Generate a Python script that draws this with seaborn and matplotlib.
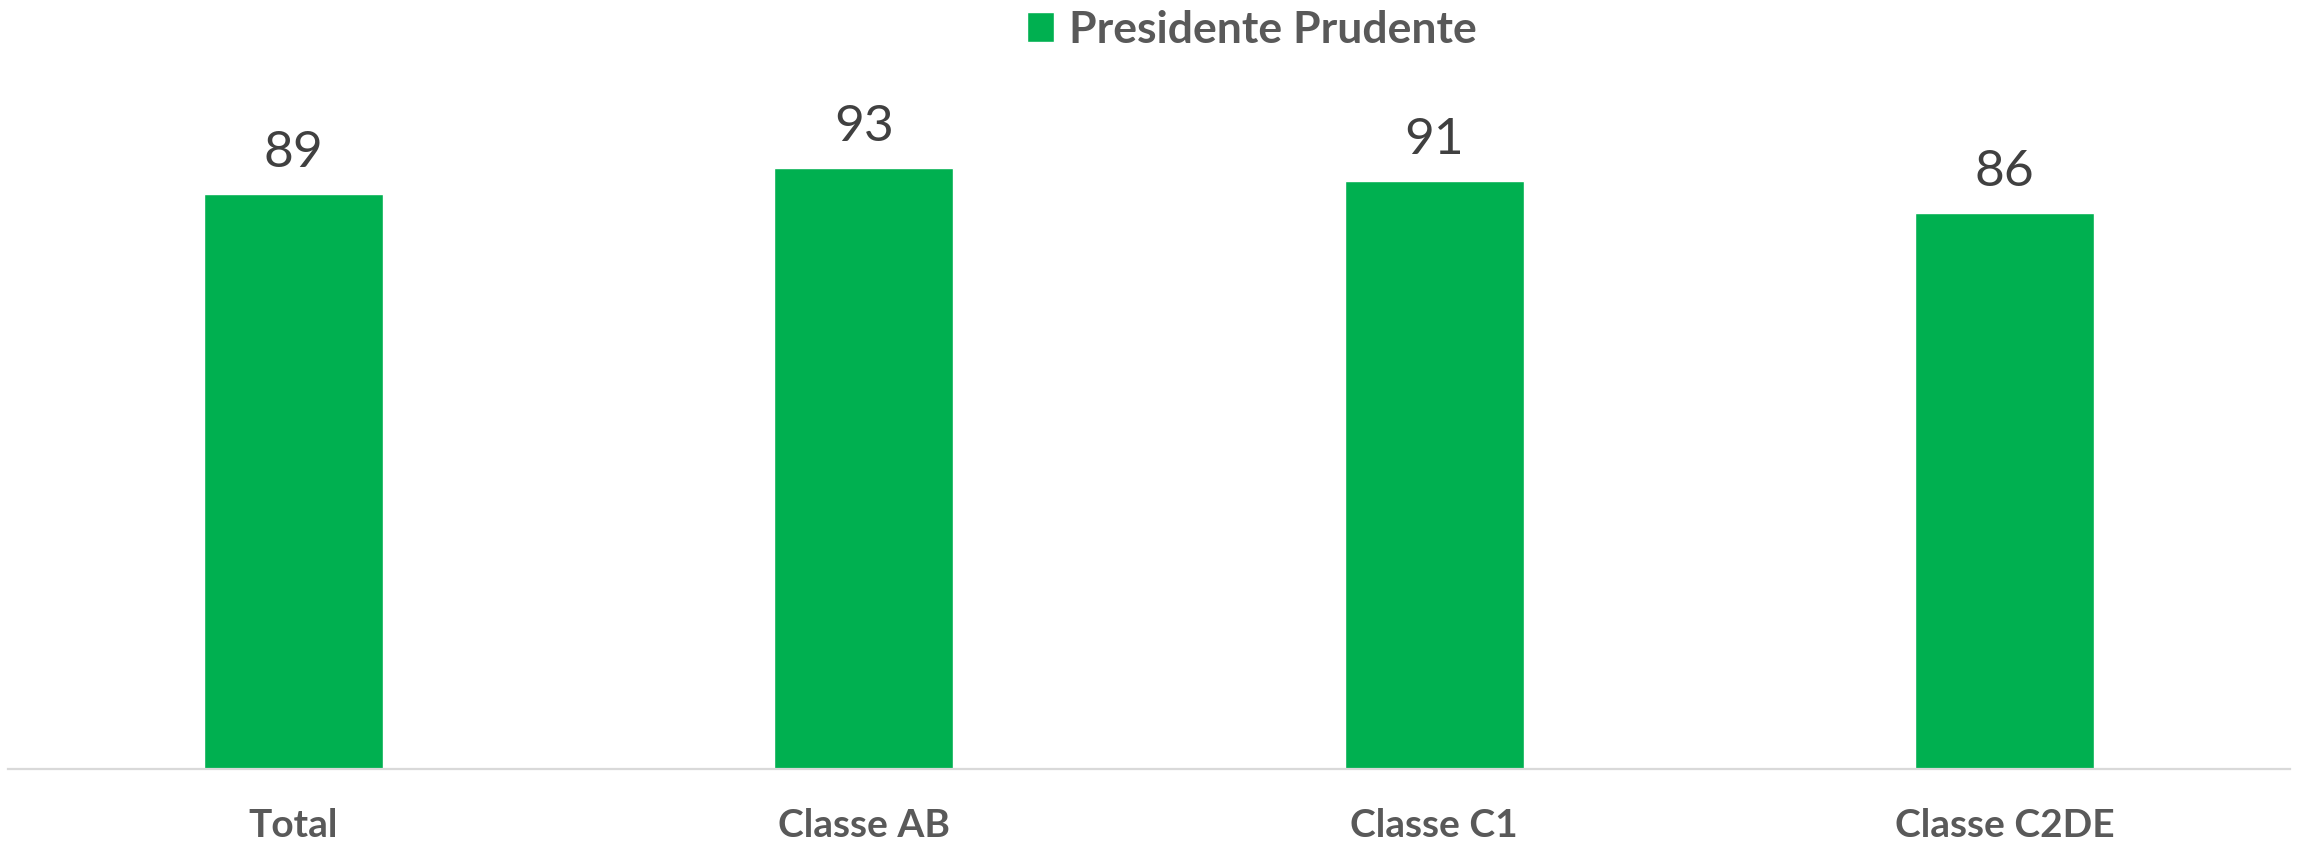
import matplotlib
matplotlib.use("Agg")
import matplotlib.pyplot as plt
import seaborn as sns
import pandas as pd

categories = ["Total", "Classe AB", "Classe C1", "Classe C2DE"]
values = [89, 93, 91, 86]
series_name = "Presidente Prudente"

GREEN = "#00B050"
W, H = 2297, 844

sns.set_theme(style="white")
plt.rcParams['font.family'] = ['Lato', 'DejaVu Sans']

fig = plt.figure(figsize=(W / 100, H / 100), dpi=100)
ax = fig.add_axes([8 / W, 75 / H, (2290 - 8) / W, (769 - 123) / H])

df = pd.DataFrame({"cat": categories, "val": values, "serie": series_name})
sns.barplot(data=df, x="cat", y="val", hue="serie", palette=[GREEN],
            width=0.314, ax=ax, saturation=1, legend=True)

ax.set_xlim(-0.5, 3.5)
ax.set_ylim(0, 100)
ax.set_xlabel("")
ax.set_ylabel("")
ax.set_yticks([])
for s in ["top", "right", "left"]:
    ax.spines[s].set_visible(False)
ax.spines["bottom"].set_color("#D9D9D9")
ax.spines["bottom"].set_linewidth(1.6)
ax.tick_params(axis="x", length=0, pad=28, labelsize=28, labelcolor="#595959")
for t in ax.get_xticklabels():
    t.set_fontweight("bold")

for c in ax.containers:
    ax.bar_label(c, labels=[str(v) for v in values], padding=13,
                 fontsize=37, color="#404040")

ax.legend(loc="upper left", bbox_to_anchor=(1018 / W, 1 - 1 / H),
          bbox_transform=fig.transFigure, frameon=False,
          handlelength=0.6, handleheight=0.65,
          handletextpad=0.34, borderaxespad=0, borderpad=0.2,
          prop={"weight": "bold", "size": 32})
leg = ax.get_legend()
for t in leg.get_texts():
    t.set_color("#595959")

fig.savefig("out.png", dpi=100, facecolor="white")
